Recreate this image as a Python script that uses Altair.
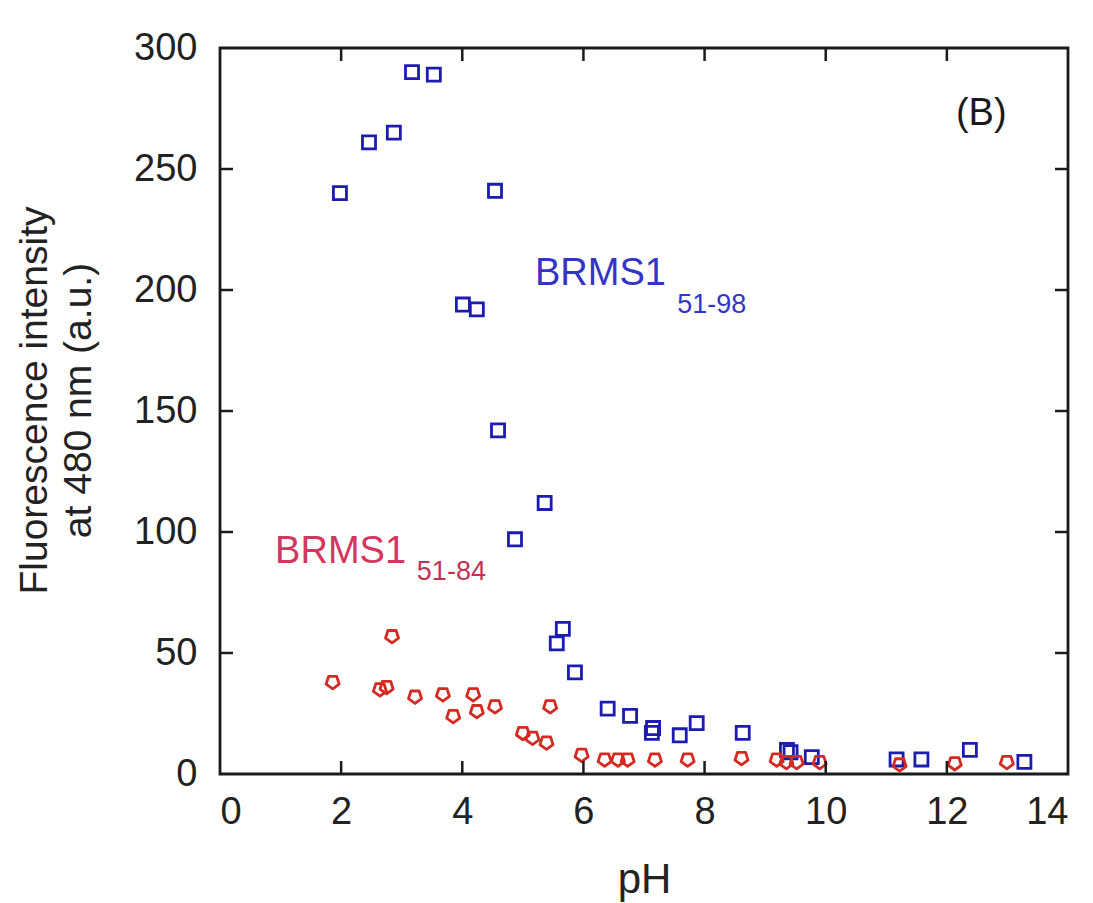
import altair as alt
import pandas as pd

# BRMS1 51-98 (blue squares): pH vs fluorescence at 480 nm
ph_98 = [1.98, 2.46, 2.87, 3.17, 3.53, 4.54, 4.01, 4.24, 4.59, 5.36, 4.87, 5.66,
         5.56, 5.86, 6.40, 6.77, 7.13, 7.15, 7.59, 7.87, 8.63, 9.36, 9.42, 9.77,
         11.17, 11.58, 12.38, 13.28]
fl_98 = [240, 261, 265, 290, 289, 241, 194, 192, 142, 112, 97, 60,
         54, 42, 27, 24, 17, 19, 16, 21, 17, 10, 9, 7,
         6, 6, 10, 5]

# BRMS1 51-84 (red markers)
ph_84 = [1.86, 2.64, 2.75, 2.84, 3.22, 3.68, 3.85, 4.18, 4.24, 4.54, 5.00, 5.16,
         5.39, 5.45, 5.97, 6.35, 6.57, 6.73, 7.18, 7.72, 8.61, 9.19, 9.35, 9.52,
         9.90, 11.22, 12.13, 12.99]
fl_84 = [38, 35, 36, 57, 32, 33, 24, 33, 26, 28, 17, 15,
         13, 28, 8, 6, 6, 6, 6, 6, 6.6, 6, 5, 5,
         5, 4, 4.5, 5]

# tick positions
x_ticks = [2, 4, 6, 8, 10, 12]
y_ticks = [50, 100, 150, 200, 250]

# annotation texts and anchors (data units)
lab_text = ["BRMS1", "51-98", "BRMS1", "51-84", "(B)"]
lab_x = [5.2, 7.55, 0.91, 3.25, 12.15]
lab_y = [202, 190.5, 87.2, 80.2, 268]
lab_size = [38, 27, 38, 27, 38]
lab_color = ["#3535c4", "#3535c4", "#d4365e", "#c23256", "#1a1a1a"]

W, H = 848, 726
BLUE = "#1c1cae"
RED = "#d42a22"
FONT = "Liberation Sans, Arial, Helvetica"

x_scale = alt.Scale(domain=[0, 14], nice=False, zero=False)
y_scale = alt.Scale(domain=[0, 300], nice=False, zero=False)

x_axis = alt.Axis(values=[0, 2, 4, 6, 8, 10, 12, 14], title="pH", titleY=118,
                  titleBaseline="alphabetic", labelPadding=19, titleFontSize=42)
y_axis = alt.Axis(values=[0, 50, 100, 150, 200, 250, 300],
                  title=["Fluorescence intensity", "at 480 nm (a.u.)"],
                  titleAngle=270, titleX=-186, titleY=352, titleBaseline="middle",
                  titleAlign="center", titleLineHeight=44, labelPadding=23)

# every layer shares the same fields and axis definitions
X = alt.X("pH:Q", scale=x_scale, axis=x_axis)
Y = alt.Y("F:Q", scale=y_scale, axis=y_axis)

df98 = pd.DataFrame({"pH": ph_98, "F": fl_98})
df84 = pd.DataFrame({"pH": ph_84, "F": fl_84})

squares = alt.Chart(df98).mark_point(
    shape="square", filled=False, color=BLUE, strokeWidth=2.8, size=170, opacity=1
).encode(x=X, y=Y)

pentagon = "M0,1L0.95,0.31L0.59,-0.81L-0.59,-0.81L-0.95,0.31Z"
reds = alt.Chart(df84).mark_point(
    shape=pentagon, filled=False, color=RED, strokeWidth=2.8, size=190,
    strokeJoin="round", opacity=1
).encode(x=X, y=Y)

# inward ticks on all four sides
xt = pd.DataFrame({"pH": x_ticks})
yt = pd.DataFrame({"F": y_ticks})
TL = 13
tick_style = dict(color="#1a1a1a", strokeWidth=2.5)
bottom_ticks = alt.Chart(xt).mark_rule(**tick_style).encode(
    x=X, y=alt.value(H), y2=alt.value(H - TL))
top_ticks = alt.Chart(xt).mark_rule(**tick_style).encode(
    x=X, y=alt.value(0), y2=alt.value(TL))
left_ticks = alt.Chart(yt).mark_rule(**tick_style).encode(
    y=Y, x=alt.value(0), x2=alt.value(TL))
right_ticks = alt.Chart(yt).mark_rule(**tick_style).encode(
    y=Y, x=alt.value(W), x2=alt.value(W - TL))

labels_df = pd.DataFrame({"text": lab_text, "pH": lab_x, "F": lab_y,
                          "size": lab_size, "color": lab_color})
labels = alt.Chart(labels_df).mark_text(
    align="left", baseline="alphabetic", font=FONT
).encode(
    x=X, y=Y,
    text="text:N",
    size=alt.Size("size:Q", scale=None, legend=None),
    color=alt.Color("color:N", scale=None, legend=None),
)

chart = alt.layer(
    squares, reds, bottom_ticks, top_ticks, left_ticks, right_ticks, labels
).properties(
    width=W, height=H,
    autosize=alt.AutoSizeParams(type="none"),
    padding={"left": 220, "top": 48, "right": 25, "bottom": 129},
    background="white",
).configure_view(
    stroke="#1a1a1a", strokeWidth=2.8
).configure_axis(
    domain=False, ticks=False, grid=False,
    labelFont=FONT, labelFontSize=38, labelColor="#222222",
    titleFont=FONT, titleFontSize=39, titleColor="#222222",
    titleFontWeight="normal",
)

chart.save("out.html", embed_options={"renderer": "svg", "actions": False})
